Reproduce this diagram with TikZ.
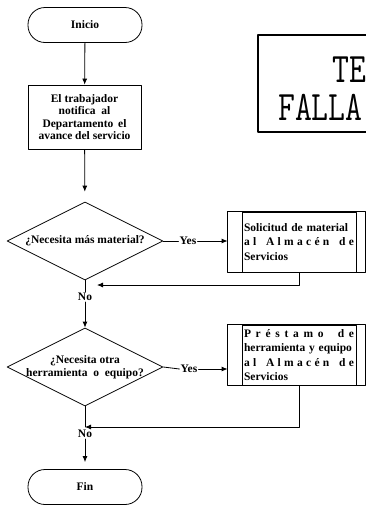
\documentclass[tikz,border=0pt]{standalone}
\usepackage{fontspec}
\setmainfont{Liberation Serif}
\usetikzlibrary{shapes.geometric,arrows.meta}

\begin{document}
\begin{tikzpicture}[x=1pt, y=-1pt, line cap=round, line join=round,
	>={Latex[length=6pt,width=5pt]},
	every node/.style={font=\fontsize{11.5}{12.5}\selectfont\bfseries},
	flow/.style={line width=0.8pt},
	terminal/.style={draw, line width=0.8pt, rounded corners=17pt, minimum width=114pt, minimum height=35pt},
	process/.style={draw, line width=0.8pt, minimum width=113pt, minimum height=64pt, align=center},
	decision/.style={draw, line width=0.8pt, diamond, minimum width=156pt, minimum height=78pt, inner sep=0pt},
	subproc/.style={draw, line width=0.8pt, minimum width=114pt, minimum height=60pt, text width=110pt, inner xsep=2pt, align=left, font=\fontsize{11.5}{14.5}\selectfont\bfseries},
	tag/.style={inner sep=1pt},
	stamp/.style={anchor=base west, inner sep=0pt, xscale=0.78, font=\ttfamily\fontsize{42}{42}\selectfont}
	]
	
	% ----------------------------
	% 0) Canvas
	% ----------------------------
	\useasboundingbox (0,0) rectangle (366,509);
	
	% ----------------------------
	% 1) Stamp (cut by the page edge)
	% ----------------------------
	\begin{scope}
		\clip (0,0) rectangle (366,509);
		\draw[line width=1.6pt] (258,35) rectangle (380,132);
		\node[stamp] (te) at (332,82) {TE};
		\node[stamp] (falla) at (278,120) {FALLA};
	\end{scope}
	
	% ----------------------------
	% 2) Main column
	% ----------------------------
	\node[terminal] (inicio) at (85,25) {Inicio};
	\node[process] (aviso) at (84.5,117) {El trabajador\\notifica\enspace al\\Departamento\, el\\avance del servicio};
	\node[decision, label={center:¿Necesita más material?}] (mat) at (85,241) {};
	\node[tag] (no1) at (85,297) {No};
	\node[decision, label={[align=center]center:¿Necesita otra\\herramienta\enspace o\enspace equipo?}] (herr) at (85,367) {};
	\node[tag] (no2) at (85,434) {No};
	\node[terminal] (fin) at (85,487) {Fin};
	
	\coordinate (j1) at (85,285);
	\coordinate (j2) at (85,427);
	
	% ----------------------------
	% 3) Side boxes (predefined process)
	% ----------------------------
	\node[tag] (si1) at (188,241) {Yes};
	\node[subproc] (sol) at (299,242) {\makebox[110pt][s]{Solicitud de material}\\
		\makebox[110pt][s]{a\hfill l\hfill\hfill\hfill A\hfill l\hfill m\hfill a\hfill c\hfill é\hfill n\hfill\hfill\hfill d\hfill e}\\
		Servicios};
	
	\node[tag] (si2) at (189,369) {Yes};
	\node[subproc] (pres) at (299,355) {\makebox[110pt][s]{P\hfill r\hfill é\hfill s\hfill t\hfill a\hfill m\hfill o\hfill\hfill\hfill d\hfill e}\\
		\makebox[110pt][s]{herramienta y equipo}\\
		\makebox[110pt][s]{a\hfill l\hfill\hfill\hfill A\hfill l\hfill m\hfill a\hfill c\hfill é\hfill n\hfill\hfill\hfill d\hfill e}\\
		Servicios};
	
	\foreach \b in {sol,pres}{
		\draw[line width=0.8pt] ([xshift=-14pt]\b.south west) rectangle ([xshift=9pt]\b.north east);
	}
	
	% ----------------------------
	% 4) Connectors
	% ----------------------------
	\draw[flow,->] (inicio) -- (aviso);
	\draw[flow,->,shorten >=10pt] (aviso) -- (mat);
	
	\draw[flow] (mat.east) -- (si1.west);
	\draw[flow,->,shorten >=14pt] (si1.east) -- (si1.east -| sol.west);
	\draw[flow,->,shorten >=12pt] (sol.south) |- (j1);
	\draw[flow] (mat.south) -- (no1.north);
	\draw[flow,->] (no1.south) -- (herr.north);
	
	\draw[flow] (herr.east) -- (si2.west);
	\draw[flow,->,shorten >=14pt] (si2.east) -- (si2.east -| pres.west);
	\draw[flow,->] (pres.south) |- (j2);
	\draw[flow] (herr.south) -- (j2);
	\draw[flow,->,shorten >=7pt] (no2.south) -- (fin.north);
	
\end{tikzpicture}
\end{document}
